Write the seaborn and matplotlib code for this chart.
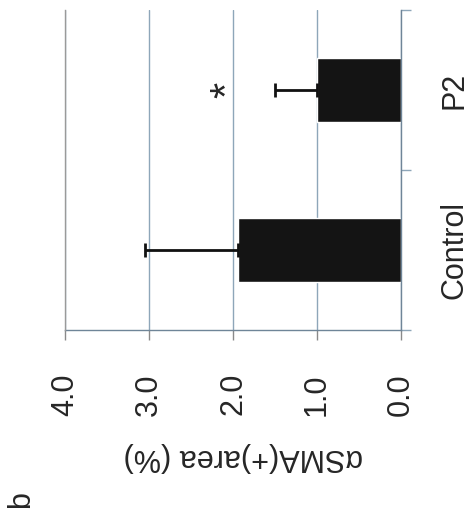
import numpy as np
import pandas as pd
import seaborn as sns
import matplotlib.pyplot as plt
from matplotlib.ticker import FixedLocator

# 数据
groups = ['Control', 'P2']
means = [1.94, 1.0]
sds = [1.11, 0.5]
order = ['P2', 'Control']  # 上面是P2
value_ticks = [0.0, 1.0, 2.0, 3.0, 4.0]
tick_labels = ['0.0', '1.0', '2.0', '3.0', '4.0']
star_group = 'P2'
star_x = 2.05

sns.set_style('white')
plt.rcParams['font.family'] = ['Liberation Sans', 'DejaVu Sans']

df = pd.DataFrame({'group': groups, 'mean': means, 'sd': sds})

fig = plt.figure(figsize=(4.7, 5.24), dpi=100)
ax = fig.add_axes([65 / 470, 1 - 330 / 524, 336 / 470, 320 / 524])

sns.barplot(data=df, x='mean', y='group', order=order, color='#141414',
            width=0.4, errorbar=None, saturation=1, ax=ax)

# 单侧误差线
pos = [order.index(g) for g in df['group']]
ax.errorbar(df['mean'], pos, xerr=[np.zeros(len(df)), df['sd']], fmt='none',
            ecolor='#111111', elinewidth=2, capsize=5, capthick=2, zorder=3)

ax.text(star_x, order.index(star_group), '*', fontsize=30, rotation=90,
        ha='center', va='center')

ax.set_xlim(4, 0)
ax.set_ylim(1.5, -0.5)

# 网格线
ax.set_axisbelow(True)
ax.xaxis.grid(True, color='#8ea6b9', linewidth=1)
ax.yaxis.grid(False)

ax.spines['top'].set_visible(False)
ax.spines['left'].set_color('#9a9a9a')
ax.spines['left'].set_zorder(5)
ax.spines['bottom'].set_color('#6f8598')
ax.spines['right'].set_color('#6f8598')
for s in ['left', 'bottom', 'right']:
    ax.spines[s].set_linewidth(1)

ax.set_xticks(value_ticks)
ax.set_xticklabels(tick_labels, rotation=90)
ax.tick_params(axis='x', length=7, width=1, color='#8a8a8a', pad=24,
               labelsize=22, bottom=True)

# 类别轴：刻度在分界处，标签在中间
ax.yaxis.set_major_locator(FixedLocator([-0.5, 0.5, 1.5]))
ax.yaxis.set_minor_locator(FixedLocator([0, 1]))
ax.set_yticklabels([], minor=False)
ax.set_yticklabels(order, minor=True, rotation=90, va='center')
ax.tick_params(axis='y', which='major', right=True, left=False, labelright=False,
               labelleft=False, length=7, width=1, color='#8ea6b9')
ax.tick_params(axis='y', which='minor', right=True, left=False, labelright=True,
               labelleft=False, length=0, pad=28, labelsize=22)

ax.set_xlabel('')
ax.set_ylabel('')

fig.text(243 / 470, 1 - 457 / 524, 'αSMA(+)area (%)', fontsize=22, rotation=180,
         ha='center', va='center')
fig.text(21 / 470, 1 - 500 / 524, 'b', fontsize=22, rotation=90,
         ha='center', va='center')

fig.savefig('out.png', dpi=100)
